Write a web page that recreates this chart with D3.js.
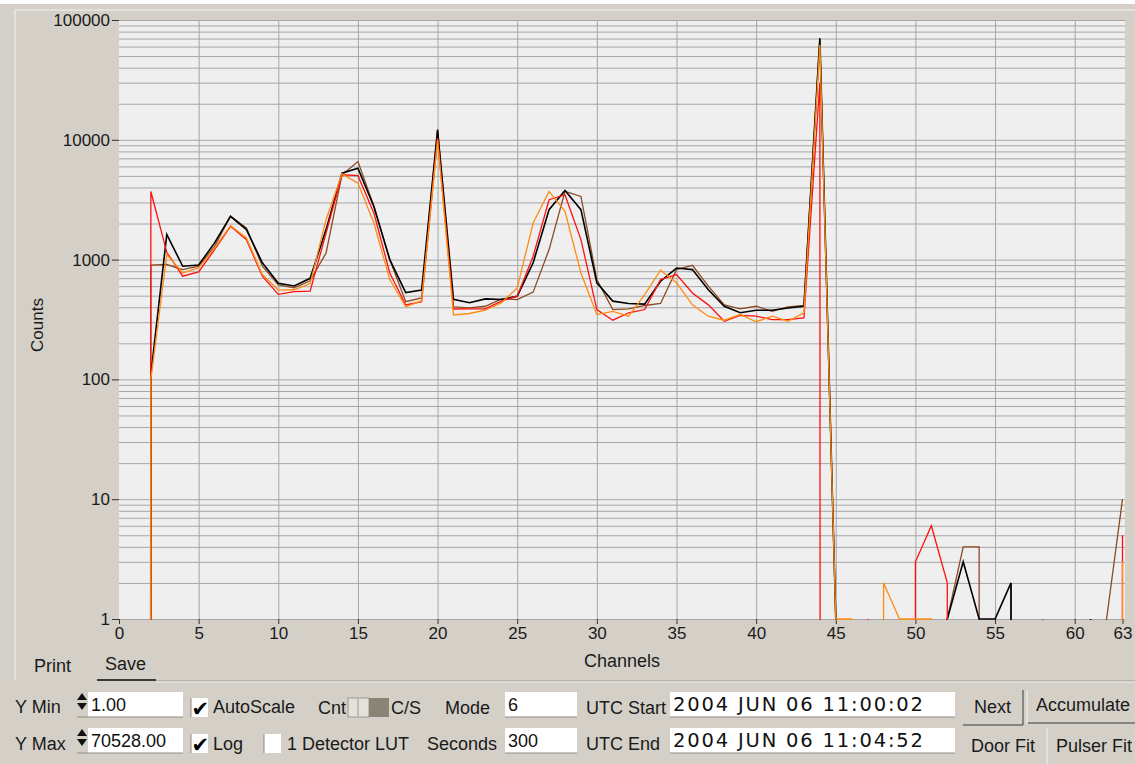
<!DOCTYPE html>
<html>
<head>
<meta charset="utf-8">
<script src="https://cdn.jsdelivr.net/npm/d3@7/dist/d3.min.js"></script>
<style>
  body { margin: 0; background: #fff; }
  svg { display: block; font-family: "Liberation Sans", Arial, sans-serif; }
</style>
</head>
<body>
<svg id="chart" width="1135" height="764"></svg>
<script>
// spectrum data, one count per channel (0 = empty channel)
const channels = [0,1,2,3,4,5,6,7,8,9,10,11,12,13,14,15,16,17,18,19,20,21,22,23,24,25,26,27,28,29,30,31,
  32,33,34,35,36,37,38,39,40,41,42,43,44,45,46,47,48,49,50,51,52,53,54,55,56,57,58,59,60,61,62,63];

const brownCounts = [0,0,900,910,825,880,1290,2300,1840,880, 615,580,665,1136,5110,6590,2810,1000,445,478,
  12300,403,395,408,470,464,535,1212,3710,3370, 681,383,388,414,430,825,897,600,419,388,
  408,370,403,414,68000,1,0,0,0,0, 0,0,1,4,4,0,2,0,1,0, 1,0,1,10];

const blackCounts = [0,0,110,1620,880,900,1380,2300,1780,940, 634,602,698,1780,5270,5800,2780,1000,530,557,
  12000,466,437,470,464,495,940,2610,3780,2610, 640,450,430,425,660,850,825,560,408,360,
  378,378,395,408,70528,1,0,0,0,0, 0,0,1,3,1,1,2,0,0,0, 0,1,0,0];

const redCounts = [0,0,3700,1150,727,790,1210,1895,1468,727, 513,540,545,1668,5110,5020,2450,774,418,445,
  10320,387,388,388,450,495,1066,3160,3480,1468, 383,312,360,383,681,750,527,419,306,342,
  337,316,316,326,30000,0,0,1,0,0, 3,6,2,0,0,0,0,0,0,0, 0,0,0,5];

const orangeCounts = [0,0,100,1100,774,852,1250,1920,1515,750, 557,560,630,2154,5200,4350,2020,681,404,454,
  10000,345,355,378,435,580,2020,3710,2530,774, 348,370,337,511,815,640,419,337,312,348,
  303,337,306,360,62000,1,1,0,2,1, 1,1,0,0,0,0,0,0,0,0, 0,0,0,3];

const xTickValues = [0,5,10,15,20,25,30,35,40,45,50,55,60,63];
const xGridValues = [5,10,15,20,25,30,35,40,45,50,55,60];
const yTickValues = [1,10,100,1000,10000,100000];

const svg = d3.select('#chart');
const W = 1135, H = 764;
const plot = { left: 119, right: 1125, top: 20, bottom: 619 };

// window background
svg.append('rect').attr('width', W).attr('height', H).attr('fill', '#ffffff');
svg.append('rect').attr('x', 0).attr('y', 4).attr('width', W).attr('height', H - 4).attr('fill', '#d4d0c8');

// panel frame
svg.append('line').attr('x1', 15).attr('y1', 10).attr('x2', W).attr('y2', 10).attr('stroke', '#f4f2ee');
svg.append('line').attr('x1', 15).attr('y1', 10).attr('x2', 15).attr('y2', 680).attr('stroke', '#f4f2ee');
svg.append('line').attr('x1', 156).attr('y1', 681).attr('x2', W).attr('y2', 681).attr('stroke', '#9c988f');
svg.append('line').attr('x1', 156).attr('y1', 682).attr('x2', W).attr('y2', 682).attr('stroke', '#f4f2ee');

const x = d3.scaleLinear().domain([0, 63]).range([plot.left, 1122.5]);
const y = d3.scaleLog().domain([1, 100000]).range([plot.bottom, plot.top]);

// plot background
svg.append('rect')
  .attr('x', plot.left).attr('y', plot.top)
  .attr('width', plot.right - plot.left).attr('height', plot.bottom - plot.top)
  .attr('fill', '#efefef');

// horizontal log grid
svg.append('g')
  .attr('transform', `translate(${plot.left},0)`)
  .call(d3.axisRight(y).tickValues(y.ticks()).tickSize(plot.right - plot.left).tickFormat(''))
  .call(g => g.select('.domain').remove())
  .selectAll('line').attr('stroke', '#a6a6a6').attr('stroke-width', 1);

// vertical grid
svg.append('g')
  .attr('transform', `translate(0,${plot.top})`)
  .call(d3.axisBottom(x).tickValues(xGridValues).tickSize(plot.bottom - plot.top).tickFormat(''))
  .call(g => g.select('.domain').remove())
  .selectAll('line').attr('stroke', '#a6a6a6').attr('stroke-width', 1);

// axes
const yAxis = svg.append('g')
  .attr('transform', `translate(${plot.left},0)`)
  .call(d3.axisLeft(y).tickValues(yTickValues).tickFormat(d3.format('d')).tickSize(7).tickPadding(2));
yAxis.select('.domain').remove();
yAxis.selectAll('line').attr('stroke', '#333');
yAxis.selectAll('text').attr('fill', '#1a1a1a').style('font-size', '17px')
  .style('font-family', '"Liberation Sans", Arial, sans-serif');

const xAxis = svg.append('g')
  .attr('transform', `translate(0,${plot.bottom})`)
  .call(d3.axisBottom(x).tickValues(xTickValues).tickSize(5).tickPadding(3));
xAxis.select('.domain').remove();
xAxis.selectAll('line').attr('stroke', '#333');
xAxis.selectAll('text').attr('fill', '#1a1a1a').style('font-size', '17px')
  .style('font-family', '"Liberation Sans", Arial, sans-serif');

svg.append('text')
  .attr('transform', 'translate(43,325) rotate(-90)')
  .attr('text-anchor', 'middle')
  .style('font-size', '17px').attr('fill', '#1a1a1a')
  .text('Counts');

svg.append('text')
  .attr('x', 622).attr('y', 667)
  .attr('text-anchor', 'middle')
  .style('font-size', '18px').attr('fill', '#1a1a1a')
  .text('Channels');

// series
svg.append('defs').append('clipPath').attr('id', 'plot-clip')
  .append('rect')
  .attr('x', plot.left).attr('y', plot.top - 1)
  .attr('width', plot.right - plot.left).attr('height', plot.bottom - plot.top + 2);

// empty channels drop straight down (log of 0)
const line = d3.line()
  .x((d, i) => x(channels[i]))
  .y(d => y(d > 0 ? d : 1e-300));

const series = [
  { counts: brownCounts, color: '#8b4a22', width: 1.3 },
  { counts: blackCounts, color: '#000000', width: 1.6 },
  { counts: redCounts, color: '#ff1010', width: 1.3 },
  { counts: orangeCounts, color: '#ff8c10', width: 1.3 }
];

const lines = svg.append('g').attr('clip-path', 'url(#plot-clip)');
series.forEach(s => {
  lines.append('path')
    .datum(s.counts)
    .attr('fill', 'none')
    .attr('stroke', s.color)
    .attr('stroke-width', s.width)
    .attr('stroke-linejoin', 'miter')
    .attr('d', line);
});

// ---- controls below the chart ----
function label(x0, y0, txt, anchor) {
  return svg.append('text')
    .attr('x', x0).attr('y', y0)
    .attr('text-anchor', anchor || 'start')
    .style('font-size', '18px').attr('fill', '#1a1a1a')
    .text(txt);
}

function inputBox(x0, y0, w, h, txt, wide) {
  svg.append('rect').attr('x', x0).attr('y', y0).attr('width', w).attr('height', h).attr('fill', '#ffffff');
  svg.append('line').attr('x1', x0).attr('y1', y0 + h).attr('x2', x0 + w).attr('y2', y0 + h)
    .attr('stroke', '#8f8b83');
  const t = svg.append('text')
    .attr('x', x0 + 3).attr('y', y0 + 19)
    .attr('fill', '#111')
    .text(txt);
  if (wide) {
    t.style('font-family', '"DejaVu Sans", Verdana, sans-serif').style('font-size', '19.5px')
      .attr('textLength', 250).attr('lengthAdjust', 'spacing');
  } else {
    t.style('font-size', '18px');
  }
}

function spinner(x0, y0) {
  svg.append('path')
    .attr('d', `M${x0},${y0 + 8} L${x0 + 5},${y0 + 1} L${x0 + 10},${y0 + 8} Z`)
    .attr('fill', '#111');
  svg.append('path')
    .attr('d', `M${x0},${y0 + 11} L${x0 + 5},${y0 + 18} L${x0 + 10},${y0 + 11} Z`)
    .attr('fill', '#111');
  svg.append('line').attr('x1', x0).attr('y1', y0 + 25).attr('x2', x0 + 11).attr('y2', y0 + 25)
    .attr('stroke', '#8f8b83');
}

function checkbox(x0, y0, checked) {
  svg.append('rect').attr('x', x0).attr('y', y0).attr('width', 17).attr('height', 19).attr('fill', '#ffffff');
  svg.append('line').attr('x1', x0).attr('y1', y0).attr('x2', x0).attr('y2', y0 + 19).attr('stroke', '#8f8b83');
  if (checked) {
    svg.append('text')
      .attr('x', x0 + 0.5).attr('y', y0 + 18)
      .style('font-family', '"DejaVu Sans", sans-serif').style('font-size', '21px')
      .style('font-weight', 'bold')
      .attr('fill', '#000')
      .text('✔');
  }
}

// tabs
label(34, 672, 'Print');
label(105, 670, 'Save');
svg.append('line').attr('x1', 97).attr('y1', 680).attr('x2', 156).attr('y2', 680)
  .attr('stroke', '#3a3a3a').attr('stroke-width', 2);

// Y Min / Y Max
label(15, 713, 'Y Min');
spinner(77, 692);
inputBox(88, 692, 95, 25, '1.00');
label(15, 750, 'Y Max');
spinner(77, 728);
inputBox(88, 728, 95, 25, '70528.00');

checkbox(191, 698, true);
label(213, 713, 'AutoScale');
checkbox(191, 734, true);
label(213, 750, 'Log');
checkbox(264, 734, false);
label(287, 750, '1 Detector LUT');

// Cnt / C/S switch
label(318, 714, 'Cnt');
svg.append('rect').attr('x', 348).attr('y', 698).attr('width', 21).attr('height', 19).attr('fill', '#e4e1da')
  .attr('stroke', '#9c988f');
svg.append('line').attr('x1', 358).attr('y1', 699).attr('x2', 358).attr('y2', 716).attr('stroke', '#9c988f');
svg.append('rect').attr('x', 369).attr('y', 698).attr('width', 20).attr('height', 19).attr('fill', '#8a8477');
label(391, 714, 'C/S');

label(445, 714, 'Mode');
inputBox(505, 692, 72, 25, '6');
label(427, 750, 'Seconds');
inputBox(505, 728, 72, 25, '300');

label(586, 714, 'UTC Start');
inputBox(670, 692, 285, 25, '2004 JUN 06 11:00:02', true);
label(586, 750, 'UTC End');
inputBox(670, 728, 285, 25, '2004 JUN 06 11:04:52', true);

// buttons
svg.append('line').attr('x1', 963).attr('y1', 725).attr('x2', 1023).attr('y2', 725).attr('stroke', '#3a3a3a');
svg.append('line').attr('x1', 1023).attr('y1', 690).attr('x2', 1023).attr('y2', 725).attr('stroke', '#3a3a3a');
label(974, 713, 'Next');
svg.append('line').attr('x1', 1028).attr('y1', 723).attr('x2', W).attr('y2', 723).attr('stroke', '#3a3a3a');
svg.append('line').attr('x1', 1027).attr('y1', 690).attr('x2', 1027).attr('y2', 723).attr('stroke', '#f4f2ee');
label(1036, 711, 'Accumulate');
label(971, 752, 'Door Fit');
svg.append('line').attr('x1', 1047).attr('y1', 728).attr('x2', 1047).attr('y2', 764).attr('stroke', '#f4f2ee');
label(1056, 752, 'Pulser Fit');
</script>
</body>
</html>
